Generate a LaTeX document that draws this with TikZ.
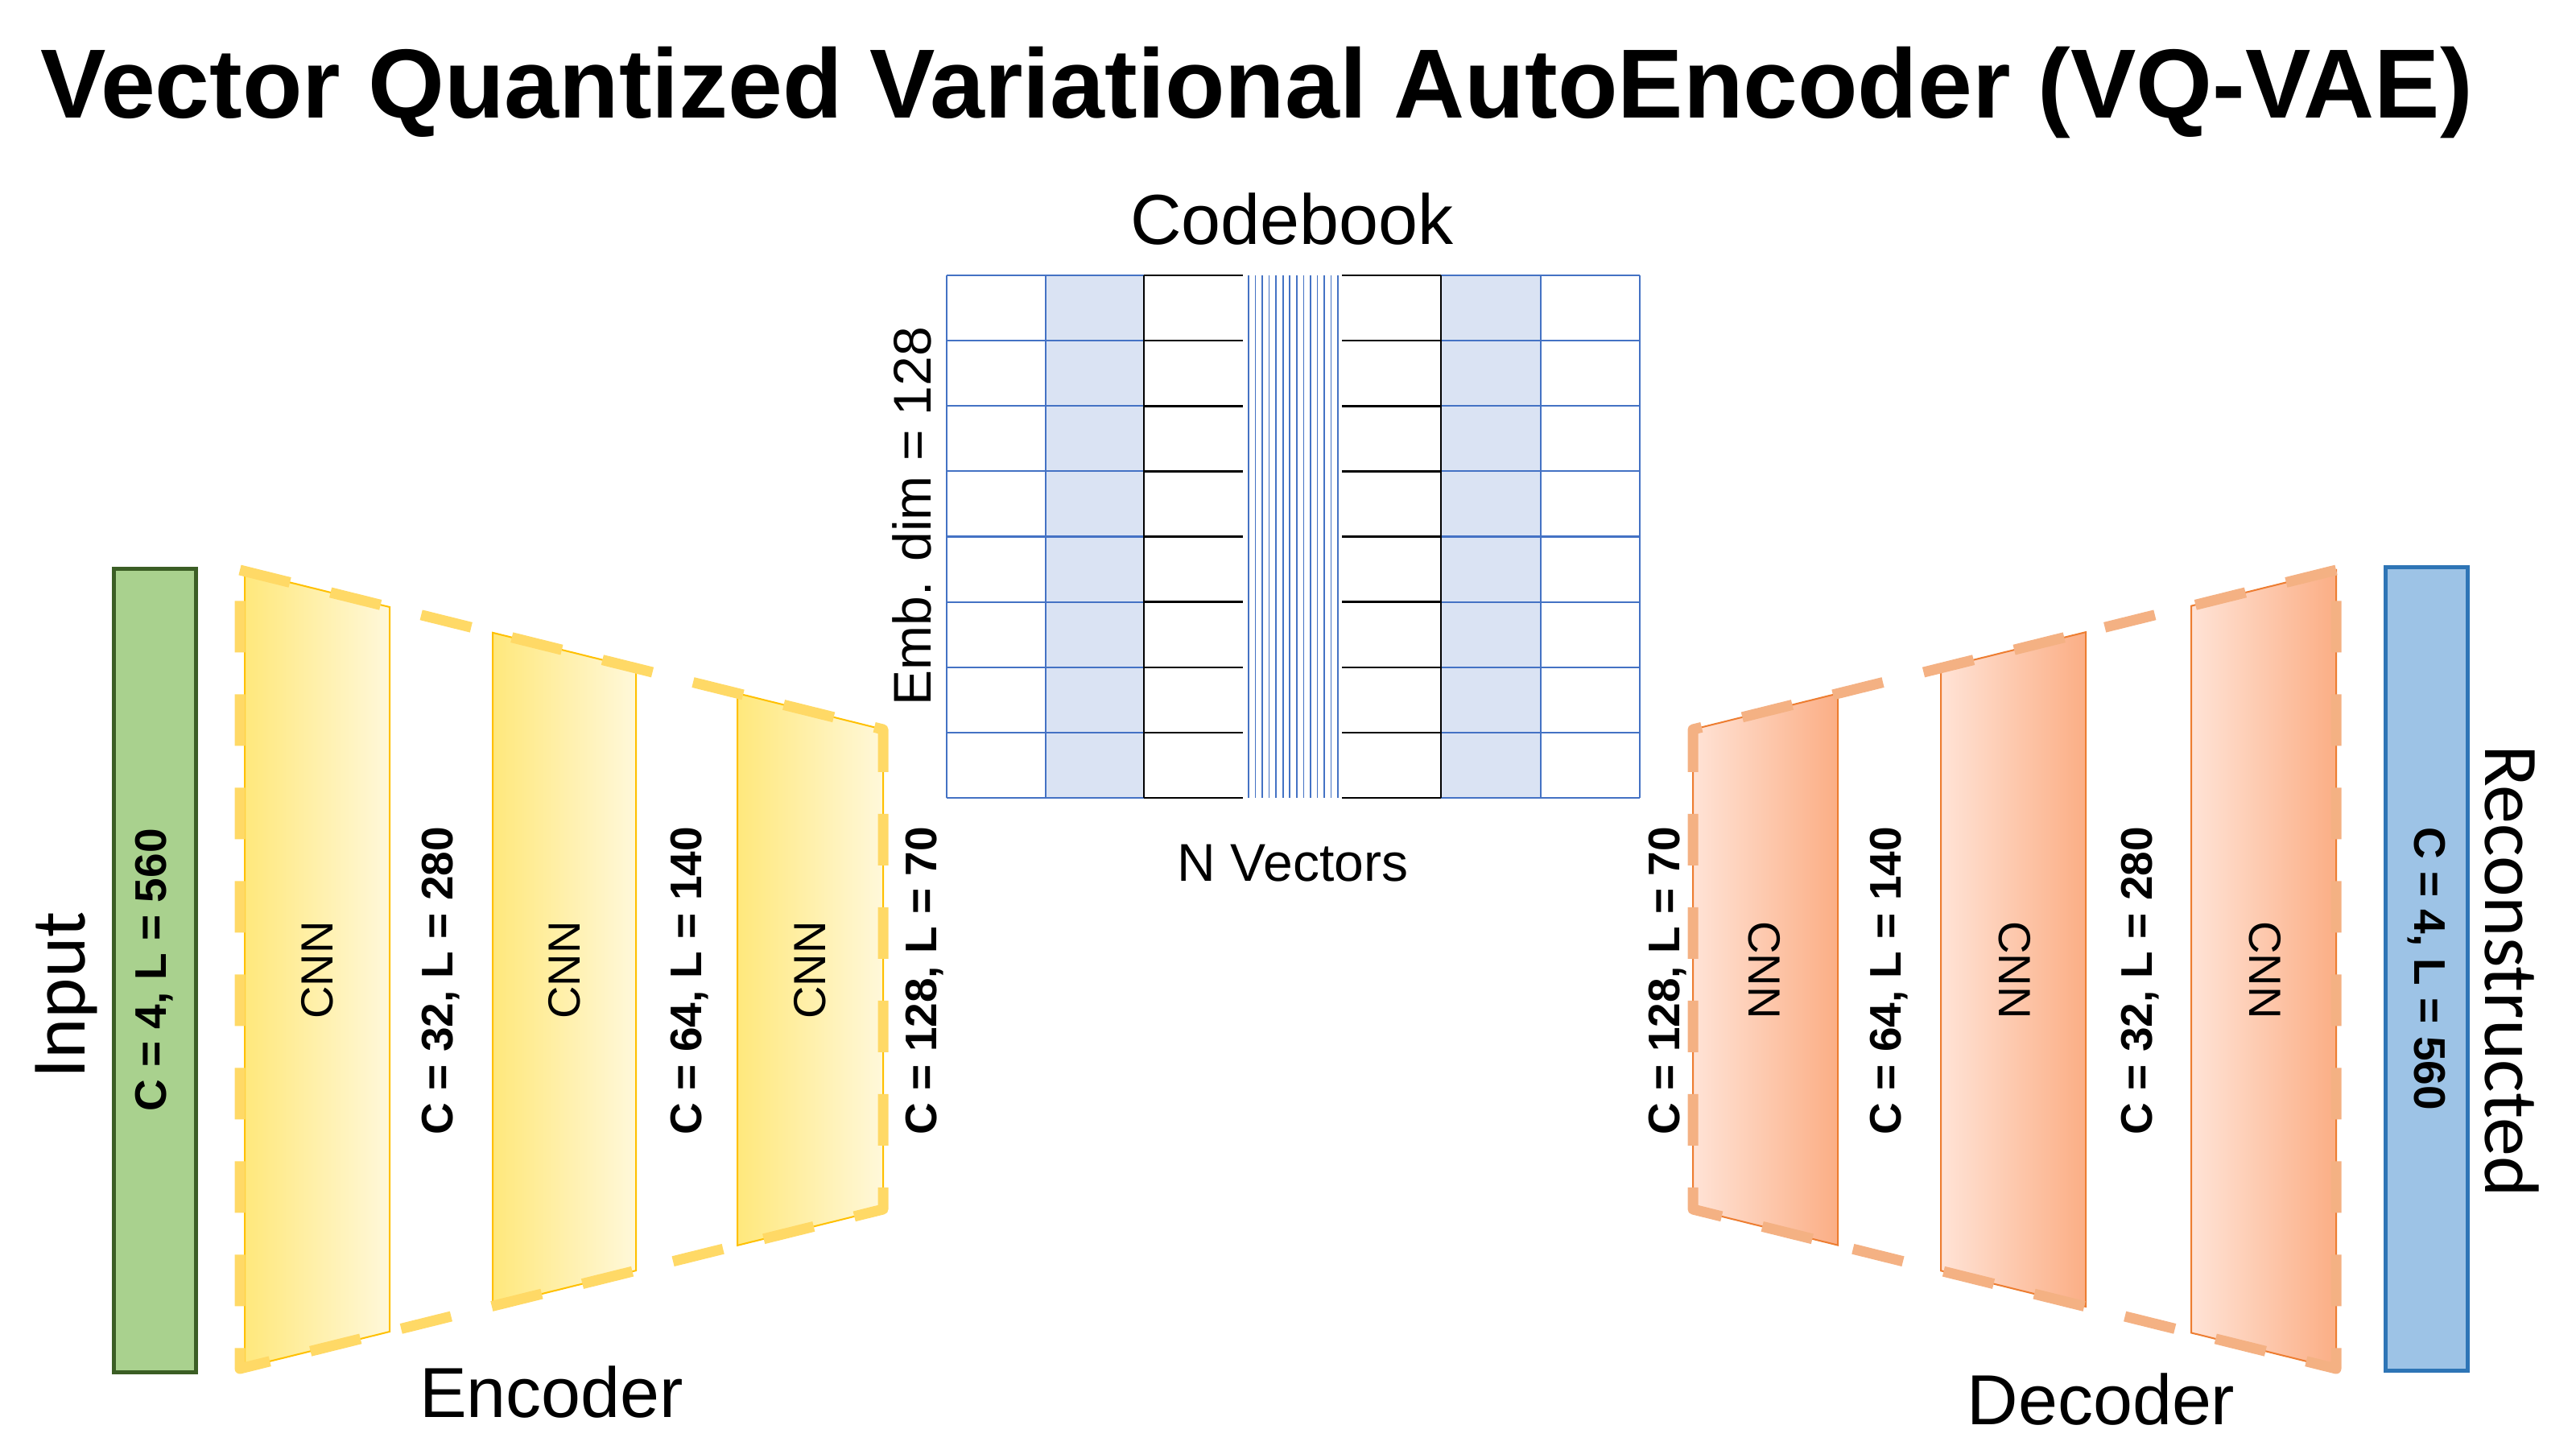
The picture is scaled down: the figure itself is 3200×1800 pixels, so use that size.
\documentclass[tikz,border=0pt]{standalone}
\usepackage{fontspec}
\setmainfont{Liberation Sans}
\newfontfamily\calib{Carlito}
\usetikzlibrary{calc}
\definecolor{encdash}{HTML}{FFD966}
\definecolor{encedge}{HTML}{FFC000}
\definecolor{encdark}{HTML}{FFE87C}
\definecolor{enclight}{HTML}{FFF8DA}
\definecolor{decdash}{HTML}{F4B183}
\definecolor{decedge}{HTML}{ED7D31}
\definecolor{decdark}{HTML}{FBAE85}
\definecolor{declight}{HTML}{FFE3D6}
\definecolor{cbblue}{HTML}{4472C4}
\definecolor{cbshade}{HTML}{DAE3F3}
\definecolor{ingreen}{HTML}{A9D18E}
\definecolor{ingreenedge}{HTML}{3B5E25}
\definecolor{recblue}{HTML}{9DC3E6}
\definecolor{recblueedge}{HTML}{2E75B6}
\tikzset{
  fs/.style={font=\fontsize{#1}{#1}\selectfont},
  bfs/.style={font=\fontsize{#1}{#1}\selectfont\bfseries},
  encblock/.style={draw=encedge, line width=2pt, left color=encdark, right color=enclight, line join=miter},
  decblock/.style={draw=decedge, line width=2pt, left color=declight, right color=decdark, line join=miter},
  encout/.style={draw=encdash, line width=13pt, dash pattern=on 64pt off 52pt, line join=round},
  decout/.style={draw=decdash, line width=13pt, dash pattern=on 64pt off 52pt, line join=round},
  bluegrid/.style={draw=cbblue, line width=2.2pt},
  blackgrid/.style={draw=black, line width=2.5pt},
  thinblue/.style={draw=cbblue, line width=1.6pt},
  dimlabel/.style={bfs=55, inner sep=0pt},
  cnnlabel/.style={fs=56, inner sep=0pt},
}
\begin{document}
\begin{tikzpicture}[x=1pt,y=-1pt]
\useasboundingbox[fill=white] (0,0) rectangle (3200,1800);

% Title
\node[bfs=122] (title) at (1561,115) {Vector Quantized Variational AutoEncoder (VQ-VAE)};

% Input bar
\node[draw=ingreenedge, line width=5pt, fill=ingreen, minimum width=102pt, minimum height=998pt, inner sep=0pt] (inbar) at (192,1205) {};
\node[dimlabel, rotate=90] (inlab) at (inbar.center) {C = 4, L = 560};
\node[font=\fontsize{96}{96}\selectfont\calib, rotate=90, inner sep=0pt] (input) at (82,1236) {Input};

% Encoder blocks
\path[encblock] (304,709.5) -- (484,754) -- (484,1654) -- (304,1698.5) -- cycle;
\path[encblock] (612,785.8) -- (790,829.9) -- (790,1578.1) -- (612,1622.2) -- cycle;
\path[encblock] (916,861.1) -- (1097,906) -- (1097,1502) -- (916,1546.9) -- cycle;
\draw[encout] (298,708) -- (1097,906) -- (1097,1502) -- (298,1700) -- cycle;
\node[cnnlabel, rotate=90] (ecnn1) at (394,1205) {CNN};
\node[cnnlabel, rotate=90] (ecnn2) at (701,1205) {CNN};
\node[cnnlabel, rotate=90] (ecnn3) at (1006,1205) {CNN};
\node[dimlabel, rotate=90] (ed1) at (548,1218) {C = 32, L = 280};
\node[dimlabel, rotate=90] (ed2) at (857,1218) {C = 64, L = 140};
\node[dimlabel, rotate=90] (ed3) at (1149,1218) {C = 128, L = 70};
\node[fs=88, inner sep=0pt] (enc) at (685,1729) {Encoder};

% Decoder blocks
\path[decblock] (2103,906) -- (2283,861.4) -- (2283,1546.6) -- (2103,1502) -- cycle;
\path[decblock] (2411,829.7) -- (2591,785.1) -- (2591,1622.9) -- (2411,1578.3) -- cycle;
\path[decblock] (2722,752.6) -- (2902,708) -- (2902,1700) -- (2722,1655.4) -- cycle;
\draw[decout] (2902,708) -- (2103,906) -- (2103,1502) -- (2902,1700) -- cycle;
\node[cnnlabel, rotate=-90] (dcnn1) at (2192,1205) {CNN};
\node[cnnlabel, rotate=-90] (dcnn2) at (2503,1205) {CNN};
\node[cnnlabel, rotate=-90] (dcnn3) at (2814,1205) {CNN};
\node[dimlabel, rotate=90] (dd1) at (2072,1218) {C = 128, L = 70};
\node[dimlabel, rotate=90] (dd2) at (2347,1218) {C = 64, L = 140};
\node[dimlabel, rotate=90] (dd3) at (2659,1218) {C = 32, L = 280};
\node[fs=88, inner sep=0pt] (dec) at (2610,1738) {Decoder};

% Reconstructed bar
\node[draw=recblueedge, line width=5pt, fill=recblue, minimum width=102pt, minimum height=998pt, inner sep=0pt] (recbar) at (3014,1203) {};
\node[dimlabel, rotate=-90] (reclab) at (recbar.center) {C = 4, L = 560};
\node[font=\fontsize{96}{96}\selectfont\calib, rotate=-90, inner sep=0pt] (recon) at (3120,1206) {Reconstructed};

% Codebook
\fill[cbshade] (1299,342) rectangle (1422,991);
\fill[cbshade] (1790,342) rectangle (1914,991);
\foreach \k in {0,...,8} {
  \pgfmathsetmacro{\yy}{342+81.125*\k}
  \draw[bluegrid] (1176,\yy) -- (1421,\yy);
  \draw[bluegrid] (1790,\yy) -- (2037,\yy);
  \draw[blackgrid] (1421,\yy) -- (1544,\yy);
  \draw[blackgrid] (1667,\yy) -- (1790,\yy);
}
\foreach \xx in {1176,1299,1914,2037} {
  \draw[bluegrid] (\xx,342) -- (\xx,991);
}
\draw[blackgrid] (1421,342) -- (1421,991);
\draw[blackgrid] (1790,342) -- (1790,991);
\foreach \i in {0,...,13} {
  \pgfmathsetmacro{\xx}{1551+8.54*\i}
  \draw[thinblue] (\xx,342) -- (\xx,991);
}
\node[fs=88, inner sep=0pt] (cbtitle) at (1605,272) {Codebook};
\node[fs=66, inner sep=0pt] (nvec) at (1606,1072) {N Vectors};
\node[fs=66, inner sep=0pt, rotate=90] (embdim) at (1133,641) {Emb. dim = 128};
\end{tikzpicture}
\end{document}
